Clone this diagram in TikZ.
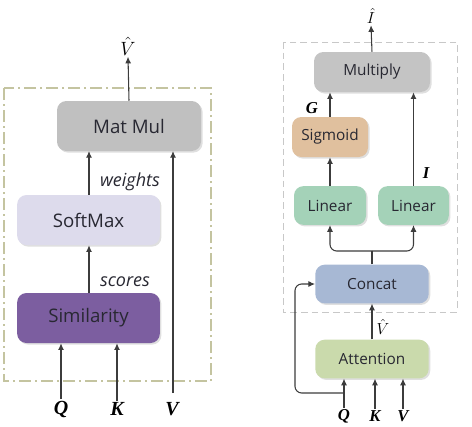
\documentclass[tikz,border=0pt]{standalone}
\usepackage{fontspec}
\setmainfont{Liberation Serif}
\newfontfamily\boxfont{Open Sans}
\usetikzlibrary{arrows.meta,shadows}
\definecolor{cMat}{RGB}{192,192,192}
\definecolor{cSoft}{RGB}{221,219,236}
\definecolor{cSim}{RGB}{124,94,160}
\definecolor{cSig}{RGB}{224,192,158}
\definecolor{cLin}{RGB}{164,210,184}
\definecolor{cCat}{RGB}{167,184,212}
\definecolor{cAtt}{RGB}{202,218,172}
\definecolor{cMul}{RGB}{196,196,196}
\definecolor{cFrameL}{RGB}{196,196,160}
\definecolor{cFrameR}{RGB}{200,200,200}
\definecolor{cTxt}{RGB}{40,40,50}
\definecolor{cLine}{RGB}{60,60,60}
\tikzset{
  blk/.style={rounded corners=7pt, inner sep=0pt, text=cTxt,
    drop shadow={opacity=0.25, shadow xshift=1.2pt, shadow yshift=-1.2pt}},
  bigblk/.style={blk, font=\boxfont\fontsize{14}{16}\selectfont},
  smallblk/.style={blk, font=\boxfont\fontsize{11.5}{13}\selectfont},
  arr/.style={draw=cLine, line width=0.8pt, -{Latex[length=5pt,width=4.5pt]}},
  ln/.style={draw=cLine, line width=0.8pt},
  lbl/.style={inner sep=1pt, font=\fontsize{15}{17}\selectfont\bfseries\itshape},
  slbl/.style={inner sep=1pt, font=\fontsize{12.5}{14}\selectfont\bfseries\itshape},
  mlbl/.style={inner sep=1pt},
  wlbl/.style={inner sep=0pt, font=\boxfont\fontsize{13.5}{15}\selectfont\itshape, text=cTxt},
}
\begin{document}
\begin{tikzpicture}[x=0.75pt, y=-0.75pt]
\useasboundingbox (0,0) rectangle (472,426);
% ---------- left panel ----------
\draw[cFrameL, line width=0.9pt, dash pattern=on 9pt off 3pt on 1.5pt off 3pt] (4,88) rectangle (211,381);
\node[bigblk, fill=cMat, minimum width=108pt, minimum height=37.5pt] (matmul) at (129,126) {Mat Mul};
\node[bigblk, fill=cSoft, minimum width=107pt, minimum height=37.5pt] (softmax) at (88.5,220) {SoftMax};
\node[bigblk, fill=cSim, minimum width=107pt, minimum height=37.5pt] (sim) at (88.5,318) {Similarity};
\node[mlbl, font=\fontsize{14}{16}\selectfont] (vhat) at (128,46) {$\hat{V}$};
\node[lbl] (ql) at (61,409) {Q};
\node[lbl] (kl) at (117,409) {K};
\node[lbl] (vl) at (172,409) {V};
\node[wlbl] (wts) at (130,182) {weights};
\node[wlbl] (scr) at (125,282) {scores};
\draw[arr] (matmul.north) -- (vhat.south);
\draw[arr] (softmax.north -| 89,0) -- (89,151);
\draw[arr] (sim.north -| 89,0) -- (softmax.south -| 89,0);
\draw[arr] (ql.north) -- (ql.north |- sim.south);
\draw[arr] (kl.north) -- (kl.north |- sim.south);
\coordinate (vtop) at (173,151);
\draw[arr] (173,393) -- (vtop);
% ---------- right panel ----------
\draw[cFrameR, line width=0.7pt, dash pattern=on 5pt off 3pt] (283,42) rectangle (457,312);
\node[smallblk, fill=cMul, minimum width=87pt, minimum height=30pt] (mult) at (372,72) {Multiply};
\node[smallblk, fill=cSig, minimum width=57pt, minimum height=30pt] (sig) at (330,137) {Sigmoid};
\node[smallblk, fill=cLin, minimum width=54pt, minimum height=29pt] (lin1) at (330,205.5) {Linear};
\node[smallblk, fill=cLin, minimum width=53pt, minimum height=29pt] (lin2) at (413.5,205.5) {Linear};
\node[smallblk, fill=cCat, minimum width=85pt, minimum height=29pt] (cat) at (372,284) {Concat};
\node[smallblk, fill=cAtt, minimum width=85pt, minimum height=29pt] (att) at (372,359) {Attention};
\node[mlbl, font=\fontsize{12.5}{14}\selectfont] (ihat) at (371,16) {$\hat{I}$};
\node[slbl] (g) at (312,108) {G};
\node[slbl] (il) at (426,173) {I};
\node[mlbl, font=\fontsize{11.5}{13}\selectfont] (vhat2) at (383,327) {$\hat{V}$};
\node[slbl] (q2) at (344,416) {Q};
\node[slbl] (k2) at (375,416) {K};
\node[slbl] (v2) at (403,416) {V};
\draw[arr] (mult.north) -- (ihat.south);
\draw[arr] (sig.north) -- (sig.north |- mult.south);
\draw[arr] (lin2.north) -- (lin2.north |- mult.south);
\draw[arr] (lin1.north) -- (sig.south);
\coordinate (split) at (372,251);
\draw[ln] (cat.north) -- (split);
\draw[arr, rounded corners=5pt] (split) -| (lin1.south);
\draw[arr, rounded corners=5pt] (split) -| (lin2.south);
\draw[arr] (att.north) -- (cat.south);
\draw[arr] (q2.north) -- (q2.north |- att.south);
\draw[arr] (k2.north) -- (k2.north |- att.south);
\draw[arr] (v2.north) -- (v2.north |- att.south);
\coordinate (qb) at (344,393);
\coordinate (lp) at (295,393);
\draw[arr, rounded corners=5pt] (qb) -- (lp) |- (cat.west);
\end{tikzpicture}
\end{document}
